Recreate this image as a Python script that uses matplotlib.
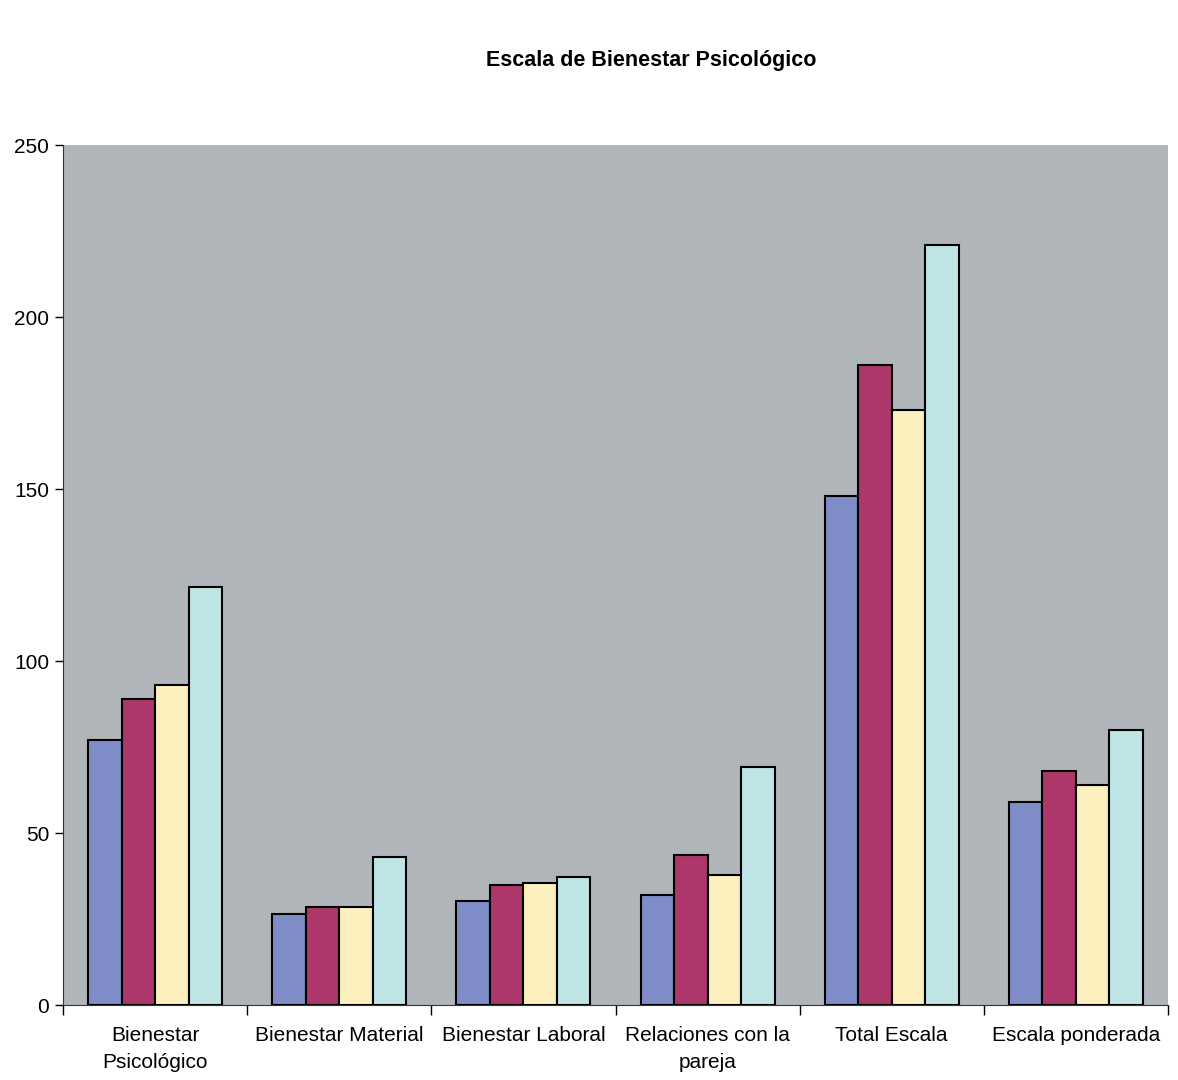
import numpy as np
import matplotlib
matplotlib.use("Agg")
import matplotlib.pyplot as plt

plt.rcParams["font.family"] = ["Liberation Sans", "DejaVu Sans"]

categories = ["Bienestar\nPsicológico", "Bienestar Material", "Bienestar Laboral",
              "Relaciones con la\npareja", "Total Escala", "Escala ponderada"]
serie_1 = [77, 26.5, 30.2, 32, 148, 59]
serie_2 = [89, 28.5, 35, 43.5, 186, 68]
serie_3 = [93, 28.5, 35.5, 37.7, 173, 64]
serie_4 = [121.5, 43, 37.3, 69.3, 221, 80]
colors = ["#7F8CC8", "#AD376B", "#FCF0BF", "#BFE4E5"]

fig = plt.figure(figsize=(11.78, 10.8), dpi=100)
ax = fig.add_axes([0.0535, 0.0694, 0.938, 0.7963])
ax.set_facecolor("#AFB5B8")

x = np.arange(len(categories)) + 0.5
w = 0.182
for k, (vals, c) in enumerate(zip([serie_1, serie_2, serie_3, serie_4], colors)):
    ax.bar(x + (k - 1.5) * w, vals, w, color=c, edgecolor="black", linewidth=1.5, zorder=3)

ax.set_xlim(0, len(categories))
ax.set_ylim(0, 250)
ax.set_yticks([0, 50, 100, 150, 200, 250])
ax.set_xticks(np.arange(len(categories) + 1))
ax.set_xticklabels([])
ax.set_xticks(x, minor=True)
ax.set_xticklabels(categories, minor=True, fontsize=15, linespacing=1.55)
ax.tick_params(axis="x", which="minor", length=0, pad=15)
ax.tick_params(axis="x", which="major", length=7, direction="out", width=1)
ax.tick_params(axis="y", length=6, direction="out", labelsize=15, pad=4, width=1)

for s in ("top", "right"):
    ax.spines[s].set_visible(False)
ax.spines["left"].set_color("#333333")
ax.spines["bottom"].set_color("#333333")

fig.text(0.5526, 0.944, "Escala de Bienestar Psicológico", ha="center", va="center",
         fontsize=15.5, fontweight="bold")

fig.savefig("out.png")
